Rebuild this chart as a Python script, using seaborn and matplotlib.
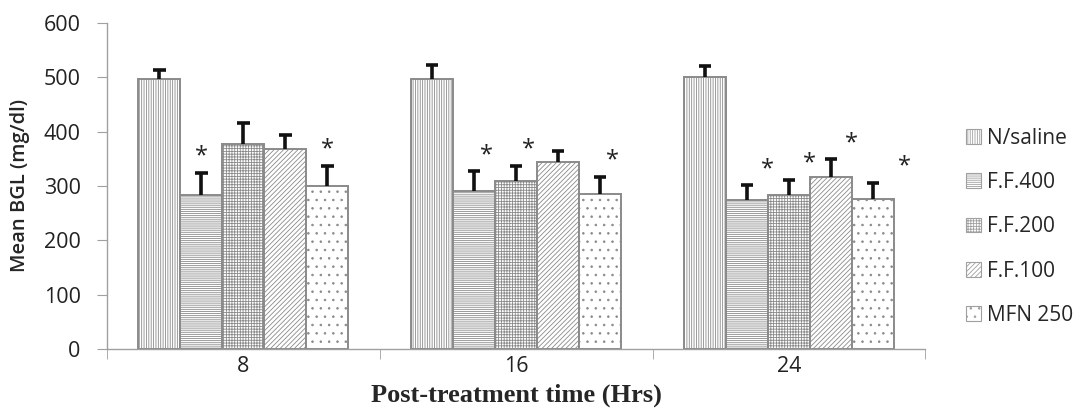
import matplotlib
matplotlib.use('Agg')
import matplotlib.pyplot as plt
import seaborn as sns
import pandas as pd

# data
times = ['8', '16', '24']
groups = ['N/saline', 'F.F.400', 'F.F.200', 'F.F.100', 'MFN 250']
means = {
    'N/saline': [496, 496, 500],
    'F.F.400': [283, 291, 274],
    'F.F.200': [377, 309, 283],
    'F.F.100': [368, 344, 316],
    'MFN 250': [300, 285, 276],
}
errs = {
    'N/saline': [17, 26, 20],
    'F.F.400': [41, 36, 27],
    'F.F.200': [39, 28, 28],
    'F.F.100': [26, 20, 33],
    'MFN 250': [37, 31, 29],
}
stars = {
    'N/saline': [0, 0, 0],
    'F.F.400': [1, 1, 1],
    'F.F.200': [0, 1, 1],
    'F.F.100': [0, 0, 1],
    'MFN 250': [1, 1, 1],
}
hatches = ['|||||||', '--------', '++++++', '///////', '..']

rows = []
for g in groups:
    for i, t in enumerate(times):
        rows.append({'time': t, 'group': g, 'bgl': means[g][i]})
df = pd.DataFrame(rows)

sns.set_style('white')
plt.rcParams['font.family'] = ['Open Sans', 'DejaVu Sans']
plt.rcParams['hatch.color'] = '#a6a6a6'
plt.rcParams['hatch.linewidth'] = 0.6

fig = plt.figure(figsize=(10.81, 4.16), dpi=100)
ax = fig.add_axes([0.099, 0.161, 0.757, 0.784])

sns.barplot(data=df, x='time', y='bgl', hue='group', order=times,
            hue_order=groups, width=0.77, color='white', edgecolor='#8a8a8a',
            linewidth=1.4, errorbar=None, legend=False, ax=ax)

handles = []
for gi, (cont, g) in enumerate(zip(ax.containers, groups)):
    for i, bar in enumerate(cont):
        bar.set_facecolor('white')
        bar.set_hatch(hatches[gi])
        xc = bar.get_x() + bar.get_width() / 2
        bw = bar.get_width()
        top = means[g][i]
        etop = top + errs[g][i]
        ax.vlines(xc, top, etop, color='#111111', lw=2.6, zorder=5)
        ax.hlines(etop, xc - bw * 0.15, xc + bw * 0.15, color='#111111', lw=2.6, zorder=5)
        if stars[g][i]:
            dx = [0, 0.3, 0.5][i] * bw
            if g == 'MFN 250' and i == 2:
                dx = 0.75 * bw
            ax.text(xc + dx, etop + 8, '*', ha='center', va='bottom',
                    fontsize=17, color='#222222')
    handles.append(plt.Rectangle((0, 0), 1, 1, facecolor='white', lw=0.8,
                                 edgecolor='#a0a0a0', hatch=hatches[gi], label=g))

ax.set_ylim(0, 600)
ax.set_xlim(-0.5, 2.5)
ax.set_yticks(range(0, 601, 100))
ax.tick_params(axis='y', labelsize=15.5, length=7, color='#a0a0a0', labelcolor='#222222', pad=12, left=True)
ax.tick_params(axis='x', labelsize=15.5, length=0, pad=5, labelcolor='#222222')
ax.set_xticks([-0.5, 0.5, 1.5, 2.5], minor=True)
ax.tick_params(axis='x', which='minor', length=7, color='#a0a0a0', bottom=True)
for s in ['top', 'right']:
    ax.spines[s].set_visible(False)
for s in ['left', 'bottom']:
    ax.spines[s].set_color('#a0a0a0')
    ax.spines[s].set_linewidth(1.0)

ax.set_ylabel('Mean BGL (mg/dl)', fontsize=14.5, fontweight='semibold', labelpad=10)
ax.set_xlabel('Post-treatment time (Hrs)', fontsize=19, fontweight='bold',
              family=['Liberation Serif', 'DejaVu Serif'], labelpad=5)

fig.legend(handles=handles, loc='center left', bbox_to_anchor=(0.886, 0.455),
           frameon=False, fontsize=15, handlelength=0.7, handleheight=0.7,
           handletextpad=0.3, labelspacing=1.12, borderaxespad=0)

fig.savefig('out.png', dpi=100)
